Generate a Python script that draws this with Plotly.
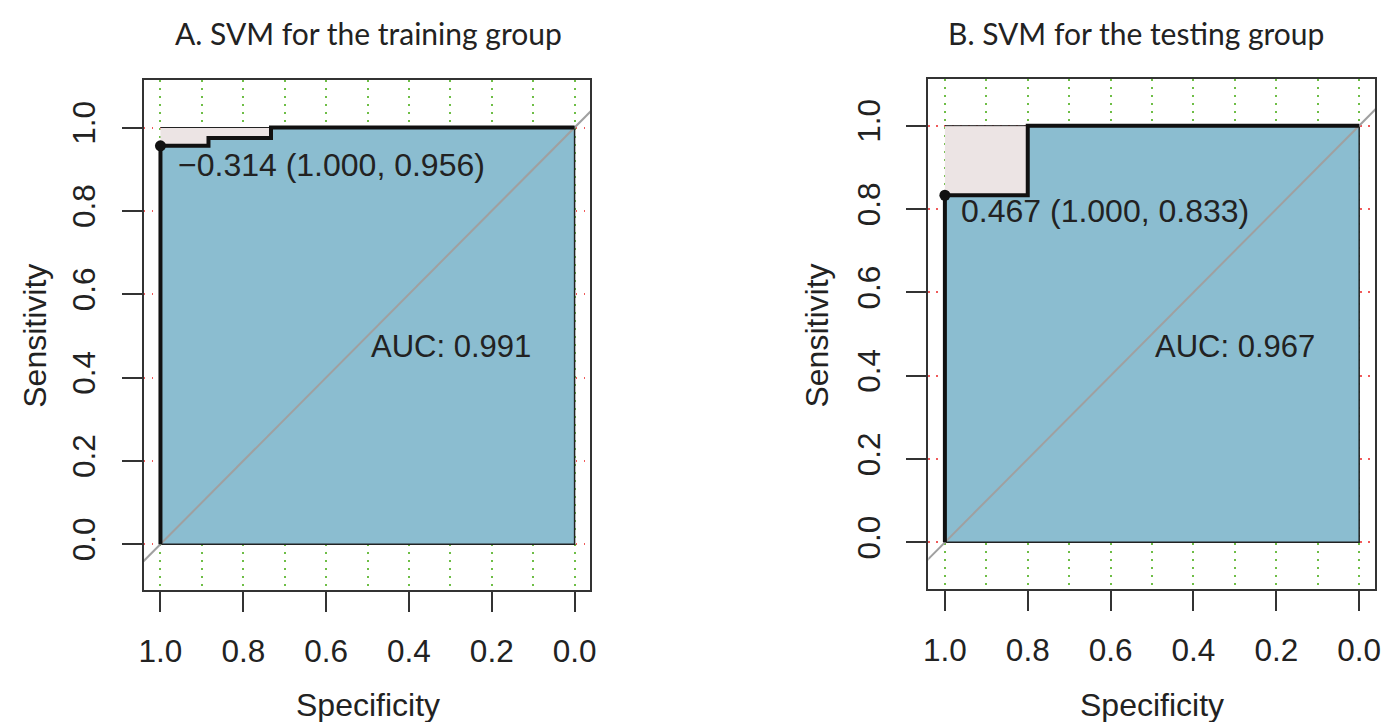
import plotly.graph_objects as go

# ---- data ----
spec_A = [1.0, 1.0, 0.884, 0.884, 0.733, 0.733, 0.0]
sens_A = [0.0, 0.956, 0.956, 0.975, 0.975, 1.0, 1.0]
best_A = (1.0, 0.956)
thr_A = "\u22120.314 (1.000, 0.956)"
auc_A = "AUC: 0.991"
title_A = "A. SVM for the training group"

spec_B = [1.0, 1.0, 0.8, 0.8, 0.0]
sens_B = [0.0, 0.833, 0.833, 1.0, 1.0]
best_B = (1.0, 0.833)
thr_B = "0.467 (1.000, 0.833)"
auc_B = "AUC: 0.967"
title_B = "B. SVM for the testing group"

tick_vals = [1.0, 0.8, 0.6, 0.4, 0.2, 0.0]
tick_text = ["1.0", "0.8", "0.6", "0.4", "0.2", "0.0"]

W, H = 1388, 722
BLUE = "rgb(139,189,208)"
PINK = "rgb(236,228,228)"
FONT = "Liberation Sans, Arial, sans-serif"

fig = go.Figure()

def add_panel(spec, sens, best, xa, ya):
    xr, yr = xa.replace("axis", ""), ya.replace("axis", "")
    # grey region between curve and sensitivity 1
    gx = list(spec) + list(reversed(spec))
    gy = list(sens) + [1.0] * len(sens)
    fig.add_trace(go.Scatter(x=gx, y=gy, fill="toself", fillcolor=PINK, mode="lines",
                             line=dict(color="#222", width=1), xaxis=xr, yaxis=yr,
                             hoverinfo="skip", showlegend=False))
    # blue area under curve
    bx = list(spec) + [spec[-1], spec[0]]
    by = list(sens) + [0.0, 0.0]
    fig.add_trace(go.Scatter(x=bx, y=by, fill="toself", fillcolor=BLUE, mode="lines",
                             line=dict(color="#222", width=1.5), xaxis=xr, yaxis=yr,
                             hoverinfo="skip", showlegend=False))
    # diagonal reference
    fig.add_trace(go.Scatter(x=[1.2, -0.2], y=[-0.2, 1.2], mode="lines",
                             line=dict(color="#a0a0a0", width=2), xaxis=xr, yaxis=yr,
                             hoverinfo="skip", showlegend=False))
    # ROC curve
    fig.add_trace(go.Scatter(x=spec, y=sens, mode="lines",
                             line=dict(color="#111", width=4), xaxis=xr, yaxis=yr,
                             showlegend=False))
    # best threshold point
    fig.add_trace(go.Scatter(x=[best[0]], y=[best[1]], mode="markers",
                             marker=dict(color="#111", size=11), xaxis=xr, yaxis=yr,
                             showlegend=False))

add_panel(spec_A, sens_A, best_A, "xaxis", "yaxis")
add_panel(spec_B, sens_B, best_B, "xaxis2", "yaxis2")

def xax(domain, rng):
    return dict(domain=domain, range=rng, tickvals=tick_vals, ticktext=tick_text,
                ticks="outside", ticklen=20, tickwidth=2, tickcolor="#333",
                showline=True, mirror=True, linewidth=2, linecolor="#333",
                showgrid=True, gridcolor="rgb(110,190,70)", gridwidth=1.5, griddash="1.5px,6.5px",
                minor=dict(dtick=0.1, tick0=0, showgrid=True, gridcolor="rgb(110,190,70)",
                           gridwidth=1.5, griddash="1.5px,6.5px", ticks=""),
                zeroline=False, tickfont=dict(family=FONT, size=31.5, color="#222"),
                ticklabelstandoff=12)

def yax(domain, rng, anchor):
    return dict(domain=domain, range=rng, anchor=anchor, tickvals=tick_vals, ticktext=tick_text,
                ticks="outside", ticklen=20, tickwidth=2, tickcolor="#333", tickangle=-90,
                showline=True, mirror=True, linewidth=2, linecolor="#333",
                showgrid=True, gridcolor="rgb(240,90,90)", gridwidth=1.5, griddash="1.5px,6.5px",
                zeroline=False, tickfont=dict(family=FONT, size=31.5, color="#222"),
                ticklabelstandoff=14)

fig.update_layout(
    width=W, height=H, margin=dict(l=0, r=0, t=0, b=0),
    paper_bgcolor="white", plot_bgcolor="white", showlegend=False,
    xaxis=xax([140 / W, 590 / W], [1.040, -0.038]) | dict(anchor="y"),
    yaxis=yax([1 - 590 / H, 1 - 80 / H], [-0.110, 1.114], "x"),
    xaxis2=xax([930.7 / W, 1381.3 / W], [1.040, -0.039]) | dict(anchor="y2"),
    yaxis2=yax([1 - 589 / H, 1 - 79 / H], [-0.112, 1.112], "x2"),
)

thr_font = dict(family=FONT, size=32, color="#222")
auc_font = dict(family=FONT, size=31, color="#222")
ann = [
    dict(x=0.962, y=0.910, xref="x", yref="y", text=thr_A, font=thr_font),
    dict(x=0.497, y=0.474, xref="x", yref="y", text=auc_A, font=auc_font),
    dict(x=0.9655, y=0.795, xref="x2", yref="y2", text=thr_B, font=thr_font),
    dict(x=0.498, y=0.469, xref="x2", yref="y2", text=auc_B, font=auc_font),
]
for a in ann:
    fig.add_annotation(**a, showarrow=False, xanchor="left", yanchor="middle")

lab = dict(family=FONT, size=32, color="#222")
tit = dict(family="Lato, sans-serif", size=30, color="#222")
fig.add_annotation(x=366 / W, y=1 - 33 / H, xref="paper", yref="paper", text=title_A,
                   showarrow=False, font=tit, xanchor="center", yanchor="middle")
fig.add_annotation(x=1140 / W, y=1 - 33 / H, xref="paper", yref="paper", text=title_B,
                   showarrow=False, font=tit, xanchor="center", yanchor="middle")
for xc in (366, 1156):
    fig.add_annotation(x=xc / W, y=1 - 705 / H, xref="paper", yref="paper", text="Specificity",
                       showarrow=False, font=lab, xanchor="center", yanchor="middle")
for xc in (30, 818):
    fig.add_annotation(x=xc / W, y=1 - 336 / H, xref="paper", yref="paper", text="Sensitivity",
                       showarrow=False, font=lab, textangle=-90, xanchor="center", yanchor="middle")

fig.write_html("out.html", config={"displayModeBar": False},
               post_script="document.body.style.margin='0';document.body.style.overflow='hidden';")
